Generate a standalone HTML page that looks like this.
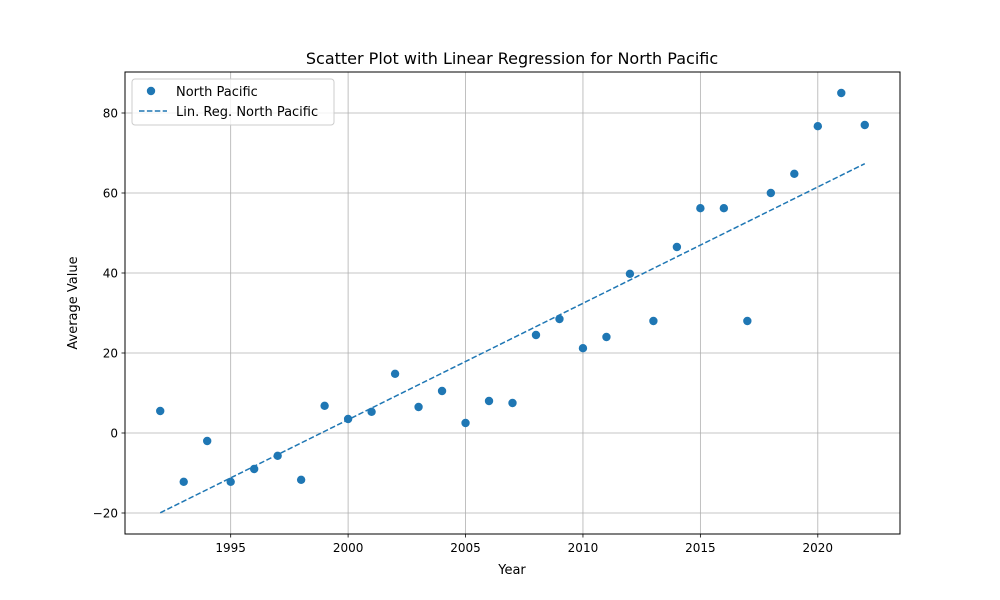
<!DOCTYPE html>
<html>
<head>
<meta charset="utf-8">
<style>
html,body{margin:0;padding:0;background:#fff;}
svg{display:block;font-family:"DejaVu Sans","Liberation Sans",sans-serif;}
</style>
</head>
<body>
<svg id="chart" width="1000" height="600" viewBox="0 0 1000 600">
  <rect width="1000" height="600" fill="#fff"/>
  <g id="grid"></g>
  <g id="ticks"></g>
  <g id="marks"></g>
  <rect x="125" y="72" width="775" height="462" fill="none" stroke="#000" stroke-width="1"/>
  <text x="512" y="64" text-anchor="middle" font-size="16">Scatter Plot with Linear Regression for North Pacific</text>
  <text x="512" y="574" text-anchor="middle" font-size="13">Year</text>
  <text x="77" y="303" text-anchor="middle" font-size="13" transform="rotate(-90 77 303)">Average Value</text>
  <g>
    <rect x="132" y="79" width="202" height="46" rx="3" fill="#fff" fill-opacity="0.8" stroke="#ccc"/>
    <circle cx="151" cy="91" r="4.2" fill="#1f77b4"/>
    <text x="176" y="96" font-size="13">North Pacific</text>
    <line x1="139" y1="111" x2="167" y2="111" stroke="#1f77b4" stroke-width="1.5" stroke-dasharray="5.5,2.4"/>
    <text x="176" y="116" font-size="13">Lin. Reg. North Pacific</text>
  </g>
</svg>
<script>
const years = [1992,1993,1994,1995,1996,1997,1998,1999,2000,2001,2002,2003,2004,2005,2006,2007,2008,2009,2010,2011,2012,2013,2014,2015,2016,2017,2018,2019,2020,2021,2022];
const values = [5.5,-12.2,-2,-12.2,-9,-5.7,-11.7,6.8,3.5,5.3,14.8,6.5,10.5,2.5,8,7.5,24.5,28.5,21.2,24,39.8,28,46.5,56.2,56.2,28,60,64.8,76.7,85,77];
const xTicks = [1995,2000,2005,2010,2015,2020];
const yTicks = [-20,0,20,40,60,80];

const NS='http://www.w3.org/2000/svg';
const L=125,R=900,T=72,B=534;
const xMin=1990.5,xMax=2023.5,yMin=-25.25,yMax=90.25;
const xs=v=>L+(v-xMin)/(xMax-xMin)*(R-L);
const ys=v=>B-(v-yMin)/(yMax-yMin)*(B-T);
function mk(tag,attrs,parent){const e=document.createElementNS(NS,tag);for(const k in attrs)e.setAttribute(k,attrs[k]);parent.appendChild(e);return e;}
const grid=document.getElementById('grid'),ticks=document.getElementById('ticks'),marks=document.getElementById('marks');

xTicks.forEach(t=>{
  const x=xs(t);
  const g=mk('line',{x1:x,x2:x,y1:T,y2:B,stroke:'#b0b0b0','stroke-width':0.8},grid);
  
  
  const tk=mk('line',{x1:x,x2:x,y1:B,y2:B+3.5,stroke:'#000','stroke-width':0.8},ticks);
  
  
  const lb=mk('text',{x:x,y:B+18,'text-anchor':'middle','font-size':12},ticks);
  lb.textContent=t;
  
  
});
yTicks.forEach(t=>{
  const y=ys(t);
  const g=mk('line',{x1:L,x2:R,y1:y,y2:y,stroke:'#b0b0b0','stroke-width':0.8},grid);
  
  
  const tk=mk('line',{x1:L-3.5,x2:L,y1:y,y2:y,stroke:'#000','stroke-width':0.8},ticks);
  
  
  const lb=mk('text',{x:L-7,y:y+4.5,'text-anchor':'end','font-size':12},ticks);
  lb.textContent=(t<0?'\u2212'+Math.abs(t):t);
  
  
});

years.forEach((yr,i)=>{
  const c=mk('circle',{cx:xs(yr),cy:ys(values[i]),r:4.2,fill:'#1f77b4'},marks);
  
  
});

const n=years.length;
const mx=years.reduce((a,b)=>a+b,0)/n, my=values.reduce((a,b)=>a+b,0)/n;
let sxy=0,sxx=0;
years.forEach((x,i)=>{sxy+=(x-mx)*(values[i]-my);sxx+=(x-mx)*(x-mx);});
const slope=sxy/sxx, icpt=my-slope*mx;
const x0=years[0],x1=years[n-1];
const ln=mk('line',{x1:xs(x0),y1:ys(slope*x0+icpt),x2:xs(x1),y2:ys(slope*x1+icpt),stroke:'#1f77b4','stroke-width':1.5,'stroke-dasharray':'5.5,2.4'},marks);


</script>
</body>
</html>
